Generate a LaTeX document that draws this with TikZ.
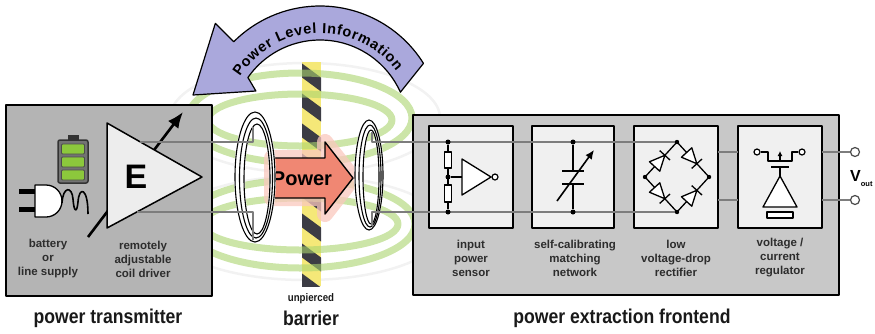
\documentclass[tikz,border=0pt]{standalone}
\usepackage{fontspec}
\setmainfont{Liberation Sans}
\newfontfamily\condfont[FakeStretch=0.88]{Liberation Sans}
\usetikzlibrary{arrows.meta,calc}

\definecolor{txgray}{RGB}{180,180,180}
\definecolor{rxgray}{RGB}{200,200,200}
\definecolor{panel}{RGB}{240,240,240}
\definecolor{wiregray}{RGB}{125,125,125}
\definecolor{lavender}{RGB}{170,168,220}
\definecolor{salmon}{RGB}{240,135,115}
\definecolor{glowpink}{RGB}{250,200,190}
\definecolor{fieldgreen}{RGB}{170,212,110}
\definecolor{warnyellow}{RGB}{245,232,120}
\definecolor{warndark}{RGB}{60,60,68}
\definecolor{cellgreen}{RGB}{140,200,60}
\definecolor{labelgray}{RGB}{45,45,45}

\begin{document}
\begin{tikzpicture}[x=1pt,y=-1pt,line join=round,
  wire/.style={draw=wiregray,line width=1.6pt},
  sym/.style={draw=black,line width=1.3pt},
  coilline/.style={draw=black,line width=1.1pt},
  housing/.style={draw=black,line width=1.5pt,inner sep=0pt},
  stage/.style={draw=black,line width=1.5pt,fill=panel,inner sep=0pt,
    minimum width=84pt,minimum height=102pt},
  lbl/.style={font=\bfseries\fontsize{11.5}{14}\selectfont,text=labelgray,align=center},
  heading/.style={font=\condfont\bfseries\fontsize{20}{20}\selectfont,text=black!90},
  arcchar/.style={font=\bfseries\fontsize{14.5}{14.5}\selectfont,inner sep=0pt,anchor=base},
  jdot/.style={circle,fill=black,inner sep=0pt,minimum size=5pt},
  term/.style={circle,draw=black!70,line width=1.2pt,fill=white,inner sep=0pt,minimum size=9pt},
  field/.style={draw=fieldgreen,line width=7pt,opacity=0.6},
  faint/.style={draw=black!5,line width=2.5pt}
]
\useasboundingbox (0,0) rectangle (875,333);

% ---------- magnetic field loops (faint halo) ----------
\draw[faint] (305,118) ellipse[x radius=135,y radius=55];
\draw[faint] (305,228) ellipse[x radius=140,y radius=52];

% ---------- barrier with hazard stripes ----------
\begin{scope}
  \clip (302,62) rectangle (321,286);
  \fill[warnyellow] (302,62) rectangle (321,286);
  \foreach \k in {-1,...,8}
    \fill[warndark] (300,62+30*\k) -- (323,62+30*\k+17) -- (323,62+30*\k+31) -- (300,62+30*\k+14) -- cycle;
\end{scope}

% ---------- magnetic field loops (green) ----------
\draw[field] (300,118) ellipse[x radius=112,y radius=45];
\draw[field] (300,120) ellipse[x radius=92,y radius=26];
\draw[field] (300,224) ellipse[x radius=98,y radius=26];
\draw[field] (300,224) ellipse[x radius=115,y radius=44];

% ---------- feedback arrow ----------
\coordinate (plc) at (320,128);
\coordinate (pltip) at (193,95);
\draw[fill=lavender,draw=black,line width=1.2pt]
  ($(plc)+(-32:122)$) arc[start angle=-32,end angle=-135,radius=122]
  -- ($(plc)+(-135:148)$) -- (pltip) -- ($(plc)+(-150:74)$)
  -- ($(plc)+(-145:88)$) arc[start angle=-145,end angle=-24,radius=88] -- cycle;
% letters set one by one along a circle of radius 95 (widths of the bold face, 14.5pt, +0.7pt tracking)
\foreach \ch/\w [count=\i, remember=\nx as \cum (initially 0)] in
  {P/0.667,o/0.611,w/0.778,e/0.556,r/0.389,{}/0.278,L/0.611,e/0.556,v/0.556,e/0.556,l/0.278,
   {}/0.278,I/0.278,n/0.611,f/0.333,o/0.611,r/0.389,m/0.889,a/0.556,t/0.333,i/0.278,o/0.611,n/0.611}
{
  \pgfmathsetmacro\nx{\cum+\w*14.5+0.7}
  \pgfmathsetmacro\ang{-147.3+(\cum+\w*7.25)/95*57.2958}
  \pgfmathsetmacro\rot{-\ang-90}
  \node[arcchar,rotate=\rot] (plchar\i) at ($(plc)+(\ang:95)$) {\ch};
}

% ---------- housings ----------
\node[housing,fill=txgray,minimum width=206pt,minimum height=191pt] (tx) at (109,200.5) {};
\node[housing,fill=rxgray,minimum width=426pt,minimum height=180pt] (rx) at (626,205) {};

% ---------- power transfer arrow ----------
\coordinate (pwA) at (272,158);
\coordinate (pwB) at (325,158);
\coordinate (pwC) at (325,142);
\coordinate (pwtip) at (353,178);
\coordinate (pwD) at (325,214);
\coordinate (pwE) at (325,198);
\coordinate (pwF) at (272,198);
\draw[draw=glowpink,fill=glowpink,line width=16pt,opacity=0.75]
  (pwA) -- (pwB) -- (pwC) -- (pwtip) -- (pwD) -- (pwE) -- (pwF) -- cycle;
\draw[fill=salmon,draw=black,line width=1.4pt]
  (pwA) -- (pwB) -- (pwC) -- (pwtip) -- (pwD) -- (pwE) -- (pwF) -- cycle;
\node[font=\bfseries\fontsize{20}{20}\selectfont] (pwlbl) at (302,179) {Power};

% ---------- transmitter coil ----------
\fill[white,even odd rule] (255,177) ellipse[x radius=21,y radius=66]
  (257,179) ellipse[x radius=12,y radius=54];
\foreach \d/\rx/\ry in {0/20/65,1/16.5/60,2/13/55}
  \draw[coilline] (255+\d,177+\d) ellipse[x radius=\rx,y radius=\ry];

% ---------- receiver coil ----------
\fill[white,even odd rule] (369,175) ellipse[x radius=15,y radius=56]
  (371,177) ellipse[x radius=7,y radius=46];
\foreach \d/\rx/\ry in {0/14/55,1/11/51,2/8/47}
  \draw[coilline] (369+\d,175+\d) ellipse[x radius=\rx,y radius=\ry];

% ---------- processing stages ----------
\node[stage] (sense) at (471,177) {};
\node[stage,minimum width=82pt] (match) at (573,177) {};
\node[stage] (rect) at (676,177) {};
\node[stage] (reg) at (780,177) {};

\node[lbl] (senselbl) at (471,258) {input\\power\\sensor};
\node[lbl] (matchlbl) at (575,258) {self-calibrating\\matching\\network};
\node[lbl] (rectlbl) at (676,258) {low\\voltage-drop\\rectifier};
\node[lbl] (reglbl) at (780,258) {voltage /\\current\\regulator};

% ---------- adjustment arrow (passes behind the driver) ----------
\coordinate (adjS) at (88,237);
\coordinate (adjE) at (183,112);
\draw[line width=2.6pt,-{Latex[length=16pt,width=13pt]}] (adjS) -- (adjE);

% ---------- coil driver ----------
\coordinate (ampA) at (107,123);
\coordinate (ampB) at (107,228);
\coordinate (ampTip) at (202,177);
\draw[fill=black!7,draw=black,line width=1.5pt] (ampA) -- (ampTip) -- (ampB) -- cycle;
\node[font=\bfseries\fontsize{34}{34}\selectfont] (E) at (136,177) {E};

% ---------- wiring ----------
\coordinate (drvT) at (140,142);
\coordinate (drvB) at (137,212);
\coordinate (txT) at (253,142);
\coordinate (txTe) at (253,127);
\coordinate (txB) at (253,212);
\coordinate (txBe) at (253,240);
\coordinate (rxT) at (372,142);
\coordinate (rxTe) at (372,132);
\coordinate (rxB) at (372,212);
\coordinate (rxBe) at (372,226);
\coordinate (brT) at (677,142);
\coordinate (brL) at (645,177);
\coordinate (brR) at (709,177);
\coordinate (brB) at (677,212);
\draw[wire] (drvT) -- (txT) -- (txTe);
\draw[wire] (drvB) -- (txB) -- (txBe);
\draw[wire] (rxTe) -- (rxT) -- (brT);
\draw[wire] (rxBe) -- (rxB) -- (brB);

\coordinate (rectoA) at (718,152);
\coordinate (regiA) at (738,152);
\coordinate (rectoB) at (718,200);
\coordinate (regiB) at (738,200);
\coordinate (regoA) at (822,152);
\coordinate (regoB) at (822,200);
\node[term] (outA) at (855,152) {};
\node[term] (outB) at (855,200) {};
\draw[wire] (rectoA) -- (regiA);
\draw[wire] (rectoB) -- (regiB);
\draw[wire] (regoA) -- (outA);
\draw[wire] (regoB) -- (outB);
\node[font=\bfseries\fontsize{16}{16}\selectfont,anchor=west,inner sep=0pt] (vout) at (850,179)
  {V\raisebox{-5pt}{\fontsize{7.5}{7.5}\selectfont out}};

% ---------- input power sensor symbol ----------
\node[jdot] (sT) at (448,142) {};
\node[jdot] (sB) at (448,212) {};
\node[jdot] (sM) at (448,177) {};
\draw[sym] (sT) -- (sB);
\draw[sym,fill=white] (444.5,152) rectangle (451.5,168);
\draw[sym,fill=white] (444.5,185) rectangle (451.5,202);
\coordinate (senseIn) at (462,177);
\draw[sym] (sM) -- (senseIn);
\draw[sym,fill=white] (462,159) -- (491,177) -- (462,195) -- cycle;
\node[circle,draw=black,line width=1.2pt,fill=white,inner sep=0pt,minimum size=6pt] (sOut) at (495,177) {};

% ---------- matching network symbol ----------
\node[jdot] (mT) at (573,142) {};
\node[jdot] (mB) at (573,212) {};
\coordinate (plateA) at (573,171);
\coordinate (plateB) at (573,184);
\draw[sym] (mT) -- (plateA);
\draw[sym] (plateB) -- (mB);
\draw[draw=black,line width=1.8pt] (562,171) -- (584,171);
\draw[draw=black,line width=1.8pt] (562,184) -- (584,184);
\coordinate (tuneS) at (557,201);
\coordinate (tuneE) at (594,150);
\draw[line width=1.6pt,-{Latex[length=9pt,width=8pt]}] (tuneS) -- (tuneE);

% ---------- bridge rectifier symbol ----------
\newcommand\bridgediode[2]{%
  \draw[sym,fill=white] ($($(#1)!0.3!(#2)$)!7pt!90:(#2)$) --
    ($(#1)!0.62!(#2)$) -- ($($(#1)!0.3!(#2)$)!7pt!-90:(#2)$) -- cycle;
  \draw[sym] ($($(#1)!0.62!(#2)$)!7pt!90:(#2)$) -- ($($(#1)!0.62!(#2)$)!7pt!-90:(#2)$);
}
\draw[sym] (brL) -- (brT) -- (brR) -- (brB) -- cycle;
\bridgediode{brL}{brT}
\bridgediode{brT}{brR}
\bridgediode{brL}{brB}
\bridgediode{brB}{brR}
\foreach \v in {brL,brT,brR,brB} \fill (\v) circle[radius=2.2];

% ---------- regulator symbol ----------
\node[circle,draw=black,line width=1.2pt,fill=white,inner sep=0pt,minimum size=6pt] (gS) at (757,152) {};
\node[circle,draw=black,line width=1.2pt,fill=white,inner sep=0pt,minimum size=6pt] (gD) at (802,152) {};
\draw[sym] (gS) -- (768,152) -- (768,161) -- (792,161) -- (792,152) -- (gD);
\draw[line width=1.2pt,-{Latex[length=5pt,width=5pt]}] (780,161) -- (780,151);
\draw[draw=black,line width=2pt] (771,167) -- (789,167);
\coordinate (ampApex) at (780,176);
\draw[sym] (780,167) -- (ampApex);
\draw[sym,fill=white] (ampApex) -- (797,207) -- (763,207) -- cycle;
\draw[sym,fill=white] (767,212) rectangle (793,218);

% ---------- battery ----------
\draw[draw=black!80,fill=black!55,line width=1.5pt,rounded corners=2pt] (58,140) rectangle (88,183);
\fill[black!80] (68,135) rectangle (79,140);
\foreach \y in {144,157,170}
  \draw[fill=cellgreen,draw=black!70,line width=0.8pt,rounded corners=1pt] (61.5,\y) rectangle (84.5,\y+10);

% ---------- mains plug ----------
\fill[black] (19,189) rectangle (36,194);
\fill[black] (19,207) rectangle (36,212);
\draw[fill=white,draw=black,line width=1.3pt] (35,185) -- (46,185)
  arc[start angle=-90,end angle=90,radius=16] -- (35,217) -- cycle;
\draw[line width=1.6pt] (62,203) .. controls (63,186) and (72,186) .. (73,199)
  .. controls (74,213) and (77,213) .. (78,202)
  .. controls (79,186) and (88,187) .. (88,214);

\node[lbl] (srclbl) at (48,259) {battery\\or\\line supply};
\node[lbl] (drvlbl) at (143,259) {remotely\\adjustable\\coil driver};

% ---------- captions ----------
\node[heading] (txcap) at (108,318) {power transmitter};
\node[heading] (barcap) at (311,318) {barrier};
\node[font=\condfont\bfseries\fontsize{11}{11}\selectfont,text=black!90] (unp) at (311,299) {unpierced};
\node[heading] (rxcap) at (622,318) {power extraction frontend};
\end{tikzpicture}
\end{document}
